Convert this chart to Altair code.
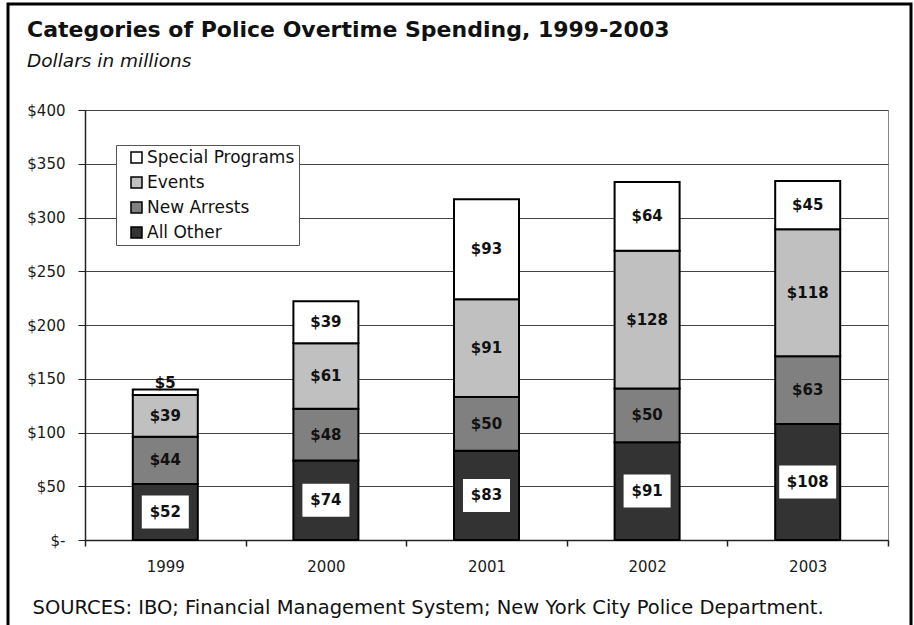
import altair as alt
import pandas as pd

# ---- data ----
years = ["1999", "2000", "2001", "2002", "2003"]
categories = ["All Other", "New Arrests", "Events", "Special Programs"]  # bottom -> top
all_other = [52, 74, 83, 91, 108]
new_arrests = [44, 48, 50, 50, 63]
events = [39, 61, 91, 128, 118]
special_programs = [5, 39, 93, 64, 45]

legend_order = ["Special Programs", "Events", "New Arrests", "All Other"]
fill_colors = ["#ffffff", "#c0c0c0", "#808080", "#333333"]

TITLE = "Categories of Police Overtime Spending, 1999-2003"
SUBTITLE = "Dollars in millions"
SOURCES = "SOURCES: IBO; Financial Management System; New York City Police Department."
y_ticks = [0, 50, 100, 150, 200, 250, 300, 350, 400]

FONT = "DejaVu Sans"

series = [all_other, new_arrests, events, special_programs]
rows = []
for i, yr in enumerate(years):
    base = 0
    for j, cat in enumerate(categories):
        v = series[j][i]
        rows.append(dict(year=yr, cat=cat, v=v, ord=j, y0=base, y1=base + v,
                         mid=base + v / 2, label=f"${v}"))
        base += v
df = pd.DataFrame(rows)

x_enc = alt.X("year:N", sort=years,
              scale=alt.Scale(paddingInner=0, paddingOuter=0),
              axis=alt.Axis(title=SOURCES, titleFont=FONT, titleFontSize=19.5,
                            titleFontWeight="normal", titleColor="#111",
                            titleX=-53, titleY=73, titleAlign="left",
                            titleBaseline="alphabetic", titleAnchor="start",
                            labelAngle=0, labelFont=FONT, labelFontSize=15,
                            labelColor="#1a1a1a", labelPadding=13,
                            tickBand="extent", tickSize=6, tickColor="#222",
                            tickWidth=1.5, domainColor="#222", domainWidth=1.5,
                            grid=False))

y_scale = alt.Scale(domain=[0, 400], nice=False)

bars = alt.Chart(df).mark_bar(width=65, stroke="black", strokeWidth=2).encode(
    x=x_enc,
    y=alt.Y("y0:Q", scale=y_scale,
            axis=alt.Axis(title=None, values=y_ticks,
                          labelExpr="datum.value == 0 ? '$-\u00a0\u00a0\u00a0' : '$' + datum.value",
                          labelFont=FONT, labelFontSize=15, labelColor="#1a1a1a",
                          tickSize=7, tickColor="#222", labelPadding=13,
                          domainColor="#222", domainWidth=1.5,
                          grid=True, gridColor="#444", gridWidth=1)),
    y2="y1:Q",
    color=alt.Color("cat:N",
                    scale=alt.Scale(domain=legend_order, range=fill_colors),
                    legend=alt.Legend(title=None, orient="none", legendX=31, legendY=35,
                                      symbolType="square", symbolSize=121,
                                      symbolStrokeColor="black", symbolStrokeWidth=1.5,
                                      symbolOpacity=1, symbolOffset=8,
                                      labelFont=FONT, labelFontSize=17, labelColor="#111",
                                      labelOffset=2, rowPadding=7,
                                      padding=4, strokeColor="#555", fillColor="white")),
)

box2 = "M-1,-0.702H1V0.702H-1Z"
box3 = "M-1,-0.579H1V0.579H-1Z"
boxes = alt.Chart(df).transform_filter("datum.cat == 'All Other'").mark_point(
    filled=True, color="white", opacity=1, strokeWidth=0
).encode(
    x=alt.X("year:N", sort=years),
    y=alt.Y("mid:Q", scale=y_scale),
    shape=alt.condition("datum.v >= 100", alt.value(box3), alt.value(box2)),
    size=alt.condition("datum.v >= 100", alt.value(57 * 57), alt.value(47 * 47)),
)

labels_mid = alt.Chart(df).transform_filter("datum.v >= 10").mark_text(
    font=FONT, fontWeight="bold", fontSize=15, color="#111"
).encode(x=alt.X("year:N", sort=years), y=alt.Y("mid:Q", scale=y_scale), text="label:N")

labels_top = alt.Chart(df).transform_filter("datum.v < 10").mark_text(
    font=FONT, fontWeight="bold", fontSize=15, color="#111", baseline="alphabetic", dy=-2
).encode(x=alt.X("year:N", sort=years), y=alt.Y("y1:Q", scale=y_scale), text="label:N")

title = alt.Chart(pd.DataFrame({"t": [TITLE]})).mark_text(
    font=FONT, fontWeight="bold", fontSize=22, color="#111", align="left", baseline="alphabetic"
).encode(x=alt.value(-58), y=alt.value(-73), text="t:N")

subtitle = alt.Chart(pd.DataFrame({"t": [SUBTITLE]})).mark_text(
    font=FONT, fontStyle="italic", fontSize=18.5, color="#111", align="left", baseline="alphabetic"
).encode(x=alt.value(-58), y=alt.value(-43), text="t:N")

frame = alt.Chart(pd.DataFrame({"a": [0]})).mark_rect(
    fillOpacity=0, stroke="black", strokeWidth=3
).encode(x=alt.value(-77), x2=alt.value(826), y=alt.value(-106), y2=alt.value(540))

chart = alt.layer(frame, bars, boxes, labels_mid, labels_top, title, subtitle).properties(
    width=803, height=430, autosize="none",
    padding={"left": 85, "top": 110, "right": 26, "bottom": 85},
    background="white",
).configure_view(stroke="#888", strokeWidth=1)

chart.save("out.html", embed_options={"renderer": "svg", "actions": False})
